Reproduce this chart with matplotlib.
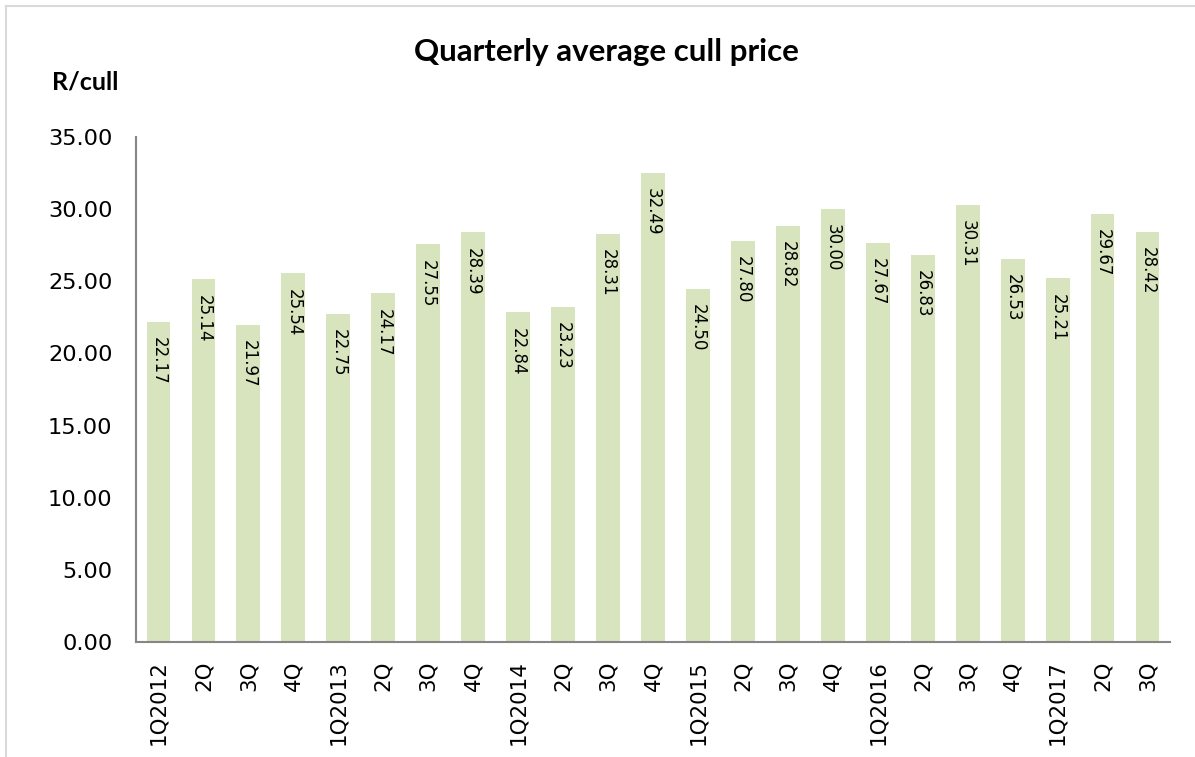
import matplotlib
matplotlib.use("Agg")
import matplotlib.pyplot as plt
from matplotlib.lines import Line2D

quarters = ["1Q2012", "2Q", "3Q", "4Q",
            "1Q2013", "2Q", "3Q", "4Q",
            "1Q2014", "2Q", "3Q", "4Q",
            "1Q2015", "2Q", "3Q", "4Q",
            "1Q2016", "2Q", "3Q", "4Q",
            "1Q2017", "2Q", "3Q"]
prices = [22.17, 25.14, 21.97, 25.54,
          22.75, 24.17, 27.55, 28.39,
          22.84, 23.23, 28.31, 32.49,
          24.50, 27.80, 28.82, 30.00,
          27.67, 26.83, 30.31, 26.53,
          25.21, 29.67, 28.42]
y_ticks = [0, 5, 10, 15, 20, 25, 30, 35]

plt.rcParams["font.family"] = ["DejaVu Sans"]

fig = plt.figure(figsize=(11.95, 7.57), dpi=100)
fig.patch.set_facecolor("white")

# outer chart frame: top and left edges only (it runs off the other two sides)
fx, fy = 6 / 1195, 1 - 6 / 757
fig.add_artist(Line2D([fx, 1.0], [fy, fy], transform=fig.transFigure,
                      color="#D9D9D9", linewidth=1.5))
fig.add_artist(Line2D([fx, fx], [0.0, fy], transform=fig.transFigure,
                      color="#D9D9D9", linewidth=1.5))

ax = fig.add_axes([136 / 1195, 1 - 642 / 757, (1170 - 136) / 1195, (642 - 137) / 757])

x = list(range(len(prices)))
ax.bar(x, prices, width=0.53, color="#D7E4BD", edgecolor="none")

for xi, v in zip(x, prices):
    ax.annotate(f"{v:.2f}", xy=(xi, v), xytext=(0, -11), textcoords="offset points",
                rotation=-90, ha="center", va="top", fontsize=12, color="black")

ax.set_xlim(-0.5, len(prices) - 0.5)
ax.set_ylim(0, 35)
ax.set_yticks(y_ticks)
ax.set_yticklabels([f"{t:.2f}" for t in y_ticks], fontsize=16.2)
ax.set_xticks(x)
ax.set_xticklabels(quarters, rotation=90, fontsize=15.4)
ax.tick_params(axis="both", length=0)
ax.tick_params(axis="y", pad=17)
ax.tick_params(axis="x", pad=13)

for side in ("top", "right"):
    ax.spines[side].set_visible(False)
for side in ("left", "bottom"):
    ax.spines[side].set_color("#868686")
    ax.spines[side].set_linewidth(1.5)

fig.text(606 / 1195, 1 - 52 / 757, "Quarterly average cull price",
         ha="center", va="center", fontsize=22.5, fontweight="bold", family=["Lato", "DejaVu Sans"])
fig.text(52 / 1195, 1 - 82 / 757, "R/cull", ha="left", va="center",
         fontsize=18, fontweight="bold", family=["Lato", "DejaVu Sans"])

fig.savefig("out.png", dpi=100, facecolor="white")
